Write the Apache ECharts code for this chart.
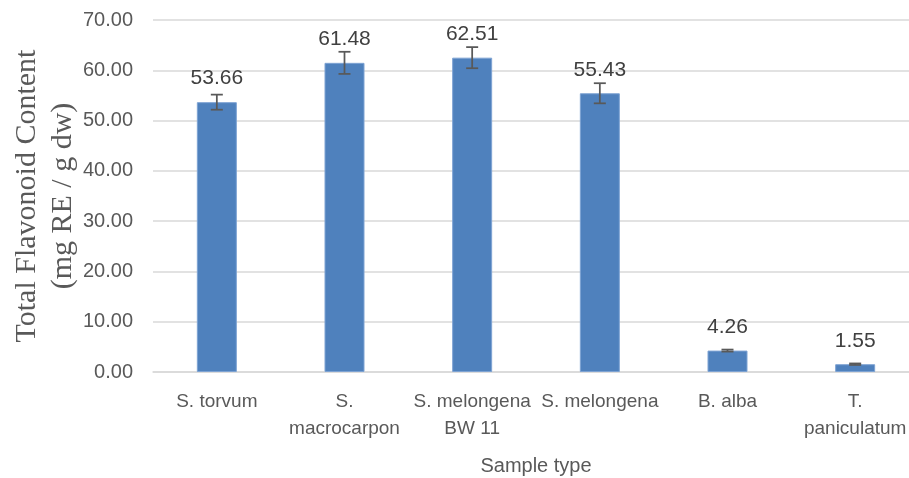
<!DOCTYPE html>
<html>
<head>
<meta charset="utf-8">
<script src="https://cdn.jsdelivr.net/npm/echarts@6/dist/echarts.min.js"></script>
<style>
html,body{margin:0;padding:0;background:#fff;}
#chart{width:909px;height:478px;}
</style>
</head>
<body>
<div id="chart"></div>
<script>
const categories = ["S. torvum", "S.\nmacrocarpon", "S. melongena\nBW 11", "S. melongena", "B. alba", "T.\npaniculatum"];
const values = [53.66, 61.48, 62.51, 55.43, 4.26, 1.55];
const errors = [1.5, 2.2, 2.1, 2.0, 0.2, 0.15];
const yTicks = [0, 10, 20, 30, 40, 50, 60, 70];
const yAxisTitle = "Total Flavonoid Content\n(mg RE / g dw)";
const xAxisTitle = "Sample type";

const errData = values.map((v, i) => [i, v - errors[i], v + errors[i]]);
const sansFont = "'Liberation Sans', Arial, sans-serif";

const chart = echarts.init(document.getElementById('chart'), null, {renderer: 'canvas'});
chart.setOption({
  animation: false,
  backgroundColor: '#ffffff',
  grid: {left: 153, right: -10, top: 20, bottom: 106, containLabel: false, outerBoundsMode: 'none'},
  xAxis: {
    type: 'category',
    data: categories,
    axisTick: {show: false},
    axisLine: {show: true, lineStyle: {color: '#d9d9d9', width: 1.5}},
    axisLabel: {color: '#595959', fontFamily: sansFont, fontSize: 19, lineHeight: 27, margin: 16, interval: 0},
    name: xAxisTitle,
    nameLocation: 'middle',
    nameGap: 83,
    nameMoveOverlap: false,
    nameTextStyle: {color: '#595959', fontFamily: sansFont, fontSize: 20, lineHeight: 22}
  },
  yAxis: {
    type: 'value',
    min: yTicks[0],
    max: yTicks[yTicks.length - 1],
    interval: yTicks[1] - yTicks[0],
    axisLine: {show: false},
    axisTick: {show: false},
    splitLine: {lineStyle: {color: '#d9d9d9', width: 1.5}},
    axisLabel: {color: '#595959', fontFamily: sansFont, fontSize: 20, margin: 20, formatter: v => v.toFixed(2)},
    name: yAxisTitle,
    nameLocation: 'middle',
    nameGap: 72,
    nameRotate: 90,
    nameMoveOverlap: false,
    nameTextStyle: {color: '#595959', fontFamily: "'Liberation Serif', 'Times New Roman', serif", fontSize: 30, lineHeight: 36}
  },
  series: [
    {
      type: 'bar',
      data: values,
      barWidth: 40,
      itemStyle: {color: '#4f81bd', borderColor: '#7ea3d3', borderWidth: 1},
      label: {
        show: true,
        position: 'top',
        distance: 13,
        color: '#404040',
        fontFamily: sansFont,
        fontSize: 21,
        formatter: p => p.value.toFixed(2)
      },
      z: 2
    },
    {
      type: 'custom',
      data: errData,
      z: 5,
      renderItem: function (params, api) {
        const x = api.value(0);
        const lo = api.coord([x, api.value(1)]);
        const hi = api.coord([x, api.value(2)]);
        const hw = 6;
        const style = {stroke: '#595959', lineWidth: 1.75, fill: null};
        return {
          type: 'group',
          children: [
            {type: 'line', shape: {x1: lo[0], y1: lo[1], x2: hi[0], y2: hi[1]}, style: style},
            {type: 'line', shape: {x1: lo[0] - hw, y1: lo[1], x2: lo[0] + hw, y2: lo[1]}, style: style},
            {type: 'line', shape: {x1: hi[0] - hw, y1: hi[1], x2: hi[0] + hw, y2: hi[1]}, style: style}
          ]
        };
      }
    }
  ]
});
</script>
</body>
</html>
